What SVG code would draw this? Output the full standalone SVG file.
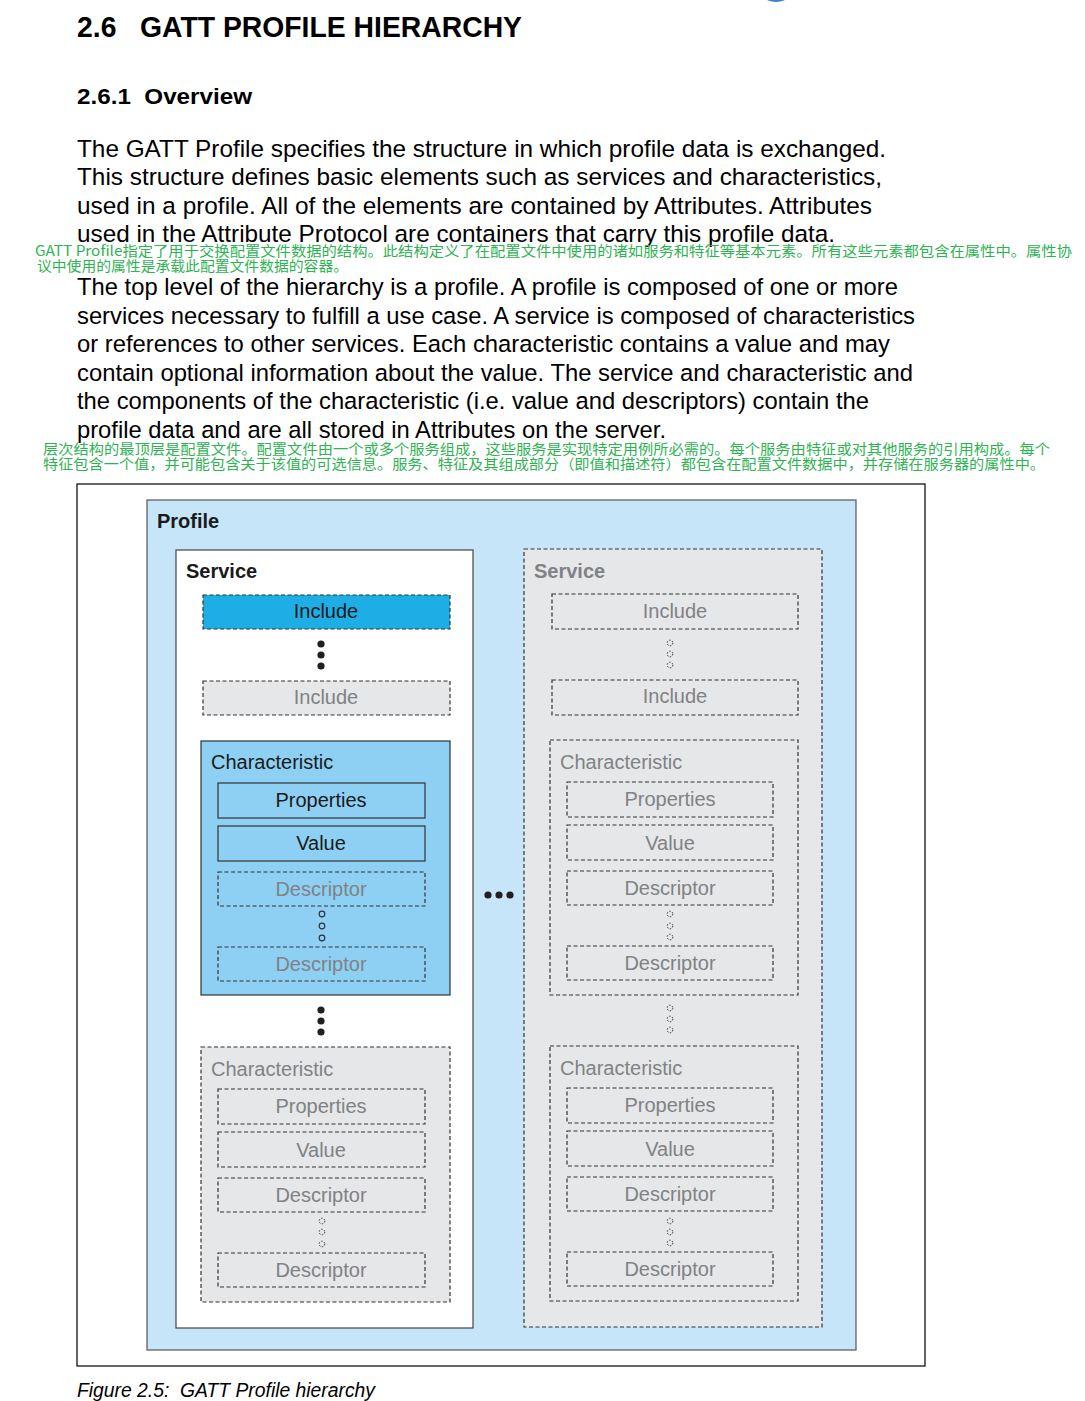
<svg xmlns="http://www.w3.org/2000/svg" width="1085" height="1401" viewBox="0 0 1085 1401">
<style>
text{font-family:"Liberation Sans",Arial,sans-serif}
.pre{white-space:pre}
.h1{font-size:29px;font-weight:bold;fill:#000}
.h2{font-size:22px;font-weight:bold;fill:#000}
.p{font-size:24.5px;fill:#000}
.cn{font-family:"Noto Sans CJK SC",sans-serif;font-size:14px;fill:#2eb352}
.cap{font-size:19.5px;font-style:italic;fill:#000}
.lbl{font-size:20px;fill:#1a1a1a}
.lblg{font-size:20px;fill:#808285}
.c{text-anchor:middle}
.b{font-weight:bold}
.dash{stroke:#333;stroke-width:1.2;stroke-dasharray:4 2.5}
.solid{stroke:#333;stroke-width:1.2}
.gray{fill:#e6e7e8}
.blue2{fill:#8ed0f3}
.dot{fill:#231f20}
.odot{fill:none;stroke:#333;stroke-width:1.2}
.ddot{fill:none;stroke:#333;stroke-width:1;stroke-dasharray:1.5 1.5}
</style>
<rect width="1085" height="1401" fill="#fff"/>
<ellipse cx="776" cy="-3" rx="11" ry="5" fill="#3b7fd1"/>
<g id="heading">
<text class="h1 pre" xml:space="preserve" x="77" y="37" textLength="445" lengthAdjust="spacingAndGlyphs">2.6   GATT PROFILE HIERARCHY</text>
<text class="h2 pre" xml:space="preserve" x="77" y="104" textLength="175" lengthAdjust="spacingAndGlyphs">2.6.1  Overview</text>
</g>
<g id="para1">
<text class="p" x="77" y="157" textLength="809" lengthAdjust="spacingAndGlyphs">The GATT Profile specifies the structure in which profile data is exchanged.</text>
<text class="p" x="77" y="185" textLength="805" lengthAdjust="spacingAndGlyphs">This structure defines basic elements such as services and characteristics,</text>
<text class="p" x="77" y="214" textLength="795" lengthAdjust="spacingAndGlyphs">used in a profile. All of the elements are contained by Attributes. Attributes</text>
<text class="p" x="77" y="242" textLength="758" lengthAdjust="spacingAndGlyphs">used in the Attribute Protocol are containers that carry this profile data.</text>
<text class="cn" x="35" y="256" textLength="1037" lengthAdjust="spacingAndGlyphs">GATT Profile指定了用于交换配置文件数据的结构。此结构定义了在配置文件中使用的诸如服务和特征等基本元素。所有这些元素都包含在属性中。属性协</text>
<text class="cn" x="37" y="271" textLength="311" lengthAdjust="spacingAndGlyphs">议中使用的属性是承载此配置文件数据的容器。</text>
</g>
<g id="para2">
<text class="p" x="77" y="295" textLength="821" lengthAdjust="spacingAndGlyphs">The top level of the hierarchy is a profile. A profile is composed of one or more</text>
<text class="p" x="77" y="324" textLength="838" lengthAdjust="spacingAndGlyphs">services necessary to fulfill a use case. A service is composed of characteristics</text>
<text class="p" x="77" y="352" textLength="813" lengthAdjust="spacingAndGlyphs">or references to other services. Each characteristic contains a value and may</text>
<text class="p" x="77" y="381" textLength="836" lengthAdjust="spacingAndGlyphs">contain optional information about the value. The service and characteristic and</text>
<text class="p" x="77" y="409" textLength="792" lengthAdjust="spacingAndGlyphs">the components of the characteristic (i.e. value and descriptors) contain the</text>
<text class="p" x="77" y="438" textLength="589" lengthAdjust="spacingAndGlyphs">profile data and are all stored in Attributes on the server.</text>
<text class="cn" x="43" y="454" textLength="1007" lengthAdjust="spacingAndGlyphs">层次结构的最顶层是配置文件。配置文件由一个或多个服务组成，这些服务是实现特定用例所必需的。每个服务由特征或对其他服务的引用构成。每个</text>
<text class="cn" x="43" y="469" textLength="1002" lengthAdjust="spacingAndGlyphs">特征包含一个值，并可能包含关于该值的可选信息。服务、特征及其组成部分（即值和描述符）都包含在配置文件数据中，并存储在服务器的属性中。</text>
</g>
<g id="figure-frame">
<rect x="77" y="484" width="848" height="882" fill="#fff" stroke="#000" stroke-width="1.2"/>
</g>
<g id="profile">
<rect x="147" y="500" width="709" height="850" fill="#c7e5f8" stroke="#555" stroke-width="1.2"/>
<text class="lbl b" x="157" y="528">Profile</text>
</g>
<g id="service-left">
<rect x="176" y="550" width="297" height="778" fill="#fff" stroke="#444" stroke-width="1.2"/>
<text class="lbl b" x="186" y="578">Service</text>
</g>
<g id="include-left-1">
<rect x="203" y="595" width="247" height="34" fill="#1eaee6" class="dash"/>
<text class="lbl c" x="326" y="618">Include</text>
</g>
<g id="include-left-2">
<rect x="203" y="681" width="247" height="34" class="gray dash"/>
<text class="lblg c" x="326" y="704">Include</text>
</g>
<g id="char-left-1">
<rect x="201" y="741" width="249" height="254" class="blue2 solid"/>
<text class="lbl" x="211" y="769">Characteristic</text>
</g>
<g id="char-left-1-properties">
<rect x="218" y="783" width="207" height="35" class="blue2 solid"/>
<text class="lbl c" x="321" y="807">Properties</text>
</g>
<g id="char-left-1-value">
<rect x="218" y="826" width="207" height="35" class="blue2 solid"/>
<text class="lbl c" x="321" y="850">Value</text>
</g>
<g id="char-left-1-desc1">
<rect x="218" y="872" width="207" height="34" class="blue2 dash"/>
<text class="lblg c" x="321" y="896">Descriptor</text>
</g>
<g id="char-left-1-desc2">
<rect x="218" y="947" width="207" height="34" class="blue2 dash"/>
<text class="lblg c" x="321" y="971">Descriptor</text>
</g>
<g id="char-left-2">
<rect x="201" y="1047" width="249" height="255" class="gray dash"/>
<text class="lblg" x="211" y="1076">Characteristic</text>
</g>
<g id="char-left-2-properties">
<rect x="218" y="1089" width="207" height="35" class="gray dash"/>
<text class="lblg c" x="321" y="1113">Properties</text>
</g>
<g id="char-left-2-value">
<rect x="218" y="1132" width="207" height="35" class="gray dash"/>
<text class="lblg c" x="321" y="1157">Value</text>
</g>
<g id="char-left-2-desc1">
<rect x="218" y="1178" width="207" height="34" class="gray dash"/>
<text class="lblg c" x="321" y="1202">Descriptor</text>
</g>
<g id="char-left-2-desc2">
<rect x="218" y="1253" width="207" height="34" class="gray dash"/>
<text class="lblg c" x="321" y="1277">Descriptor</text>
</g>
<g id="service-right">
<rect x="524" y="549" width="298" height="778" class="gray dash"/>
<text class="lblg b" x="534" y="578">Service</text>
</g>
<g id="include-right-1">
<rect x="552" y="594" width="246" height="35" class="gray dash"/>
<text class="lblg c" x="675" y="618">Include</text>
</g>
<g id="include-right-2">
<rect x="552" y="680" width="246" height="35" class="gray dash"/>
<text class="lblg c" x="675" y="703">Include</text>
</g>
<g id="char-right-1">
<rect x="550" y="740" width="248" height="255" class="gray dash"/>
<text class="lblg" x="560" y="769">Characteristic</text>
</g>
<g id="char-right-1-properties">
<rect x="567" y="782" width="206" height="35" class="gray dash"/>
<text class="lblg c" x="670" y="806">Properties</text>
</g>
<g id="char-right-1-value">
<rect x="567" y="825" width="206" height="35" class="gray dash"/>
<text class="lblg c" x="670" y="850">Value</text>
</g>
<g id="char-right-1-desc1">
<rect x="567" y="871" width="206" height="34" class="gray dash"/>
<text class="lblg c" x="670" y="895">Descriptor</text>
</g>
<g id="char-right-1-desc2">
<rect x="567" y="946" width="206" height="34" class="gray dash"/>
<text class="lblg c" x="670" y="970">Descriptor</text>
</g>
<g id="char-right-2">
<rect x="550" y="1046" width="248" height="255" class="gray dash"/>
<text class="lblg" x="560" y="1075">Characteristic</text>
</g>
<g id="char-right-2-properties">
<rect x="567" y="1088" width="206" height="35" class="gray dash"/>
<text class="lblg c" x="670" y="1112">Properties</text>
</g>
<g id="char-right-2-value">
<rect x="567" y="1131" width="206" height="35" class="gray dash"/>
<text class="lblg c" x="670" y="1156">Value</text>
</g>
<g id="char-right-2-desc1">
<rect x="567" y="1177" width="206" height="34" class="gray dash"/>
<text class="lblg c" x="670" y="1201">Descriptor</text>
</g>
<g id="char-right-2-desc2">
<rect x="567" y="1252" width="206" height="34" class="gray dash"/>
<text class="lblg c" x="670" y="1276">Descriptor</text>
</g>
<g id="connectors">
<circle class="dot" cx="321" cy="644" r="3.6"/>
<circle class="dot" cx="321" cy="655" r="3.6"/>
<circle class="dot" cx="321" cy="666" r="3.6"/>
<circle class="odot" cx="322" cy="914" r="2.8"/>
<circle class="odot" cx="322" cy="926" r="2.8"/>
<circle class="odot" cx="322" cy="938" r="2.8"/>
<circle class="dot" cx="321" cy="1010" r="3.6"/>
<circle class="dot" cx="321" cy="1021" r="3.6"/>
<circle class="dot" cx="321" cy="1032" r="3.6"/>
<circle class="ddot" cx="322" cy="1221" r="2.8"/>
<circle class="ddot" cx="322" cy="1232" r="2.8"/>
<circle class="ddot" cx="322" cy="1244" r="2.8"/>
<circle class="dot" cx="488" cy="895" r="3.6"/>
<circle class="dot" cx="499" cy="895" r="3.6"/>
<circle class="dot" cx="510" cy="895" r="3.6"/>
<circle class="ddot" cx="670" cy="643" r="2.8"/>
<circle class="ddot" cx="670" cy="654" r="2.8"/>
<circle class="ddot" cx="670" cy="665" r="2.8"/>
<circle class="ddot" cx="670" cy="914" r="2.8"/>
<circle class="ddot" cx="670" cy="926" r="2.8"/>
<circle class="ddot" cx="670" cy="937" r="2.8"/>
<circle class="ddot" cx="670" cy="1008" r="2.8"/>
<circle class="ddot" cx="670" cy="1019" r="2.8"/>
<circle class="ddot" cx="670" cy="1030" r="2.8"/>
<circle class="ddot" cx="670" cy="1221" r="2.8"/>
<circle class="ddot" cx="670" cy="1232" r="2.8"/>
<circle class="ddot" cx="670" cy="1243" r="2.8"/>
</g>
<g id="caption">
<text class="cap pre" xml:space="preserve" x="77" y="1397" textLength="298" lengthAdjust="spacingAndGlyphs">Figure 2.5:  GATT Profile hierarchy</text>
</g>
</svg>
